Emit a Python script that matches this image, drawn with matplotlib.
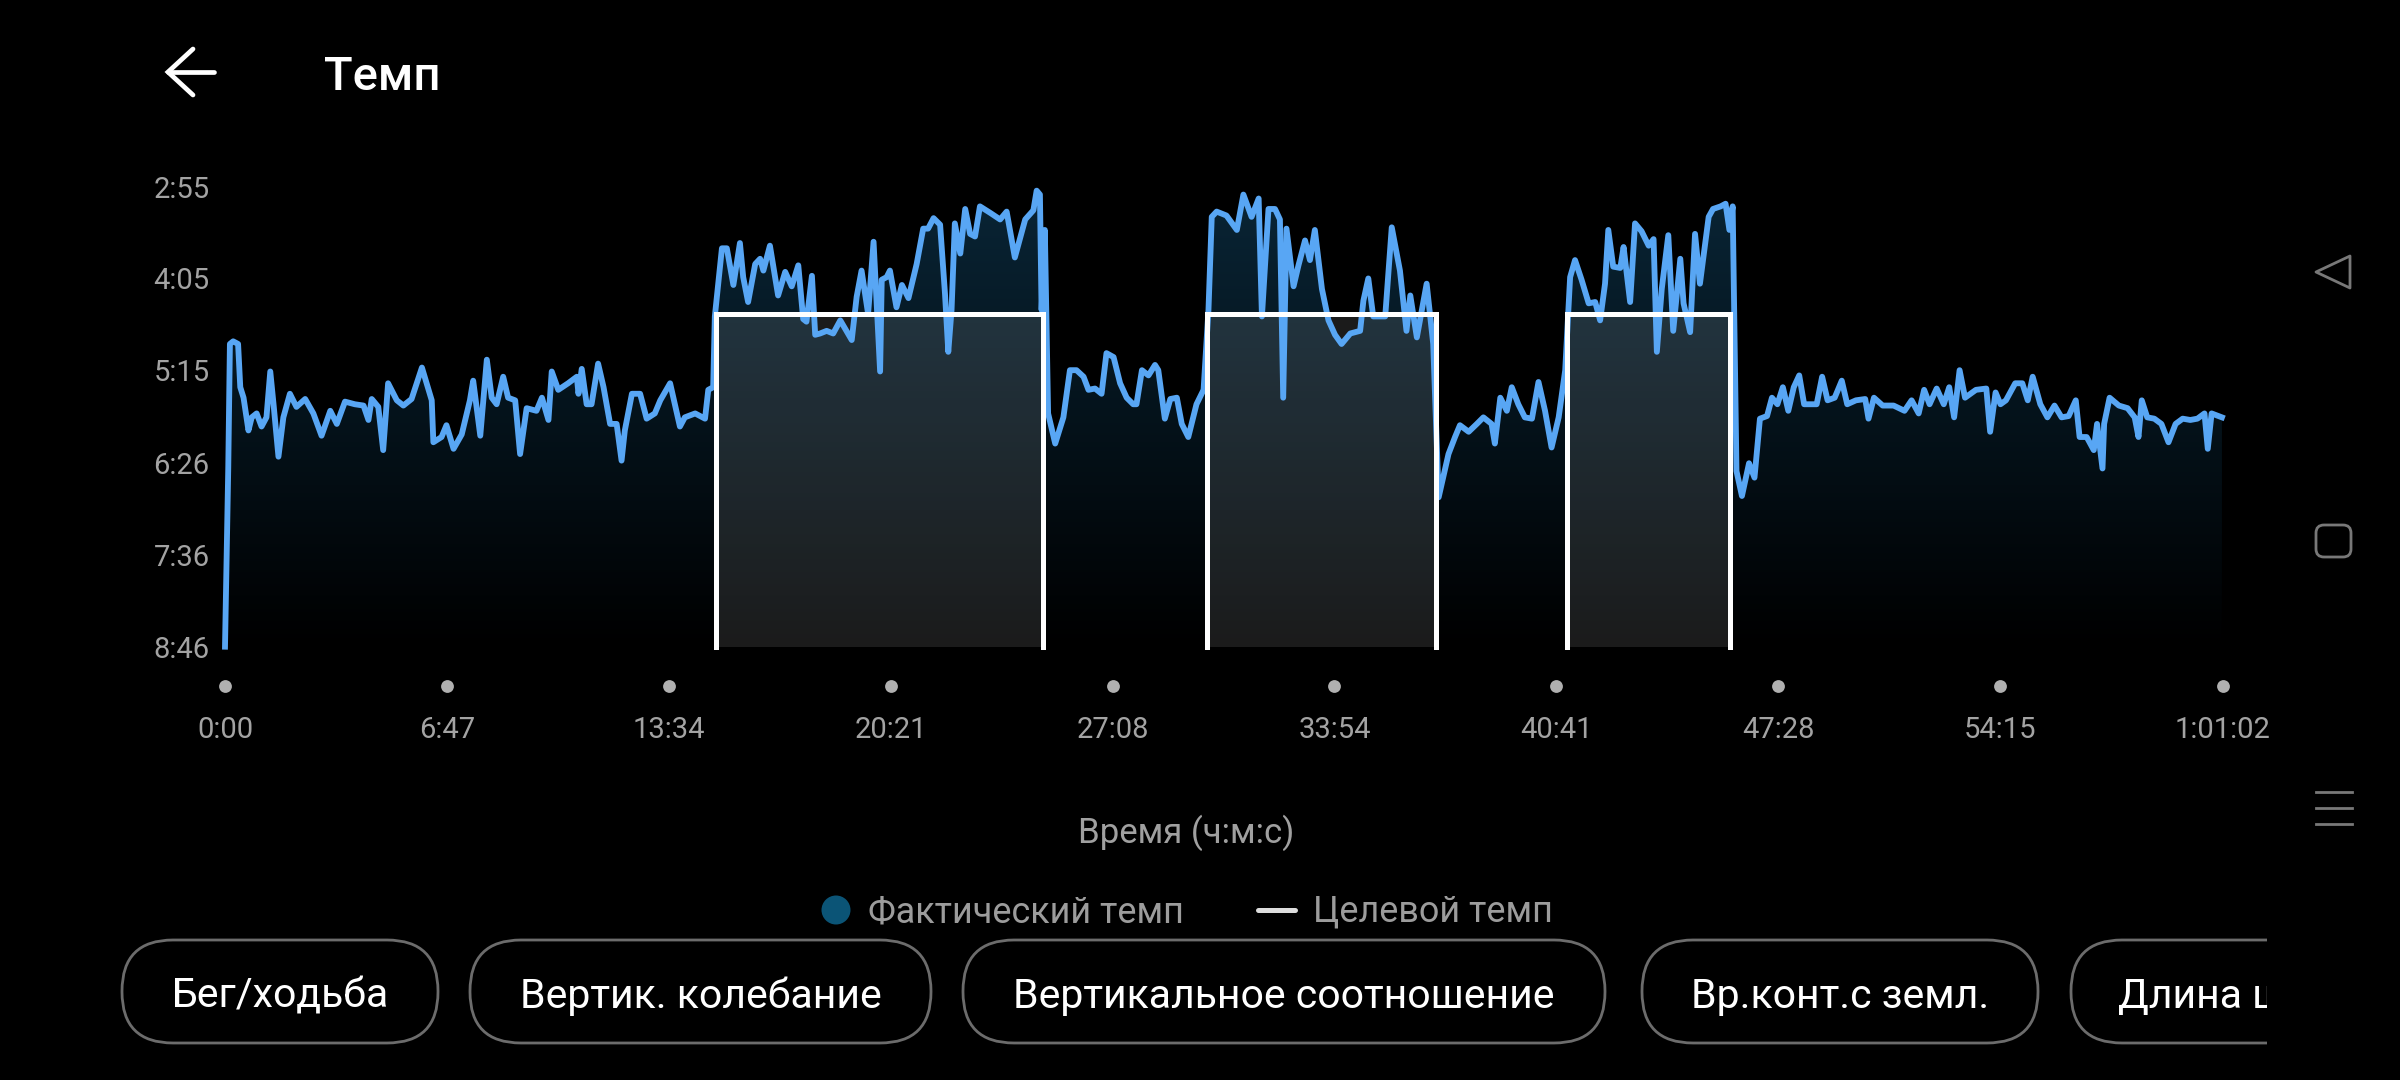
import numpy as np
import matplotlib
matplotlib.use("Agg")
import matplotlib.pyplot as plt
import matplotlib.transforms as mtransforms
from matplotlib.colors import LinearSegmentedColormap
from matplotlib.lines import Line2D
from matplotlib.patches import FancyBboxPatch, Polygon, Circle, Rectangle

plt.rcParams['font.family'] = ['Roboto', 'DejaVu Sans']

# ---- data (time in seconds, pace in seconds per km) ----
time_s = [
    0, 6, 9, 15, 24, 28, 34, 43, 49, 58, 67, 76, 83, 89, 98, 107, 119, 131, 147, 162,
    177, 193, 205, 220, 238, 254, 263, 269, 281, 290, 299, 315, 327, 342, 361, 379, 382, 397, 406, 419,
    434, 449, 455, 468, 480, 489, 498, 510, 519, 532, 541, 553, 571, 581, 593, 599, 611, 629, 645, 648,
    654, 663, 672, 684, 694, 706, 718, 727, 733, 746, 761, 773, 788, 798, 816, 822, 834, 843, 862, 880,
    886, 895, 898, 911, 920, 932, 944, 950, 959, 972, 981, 987, 999, 1014, 1027, 1039, 1051, 1060, 1066, 1076,
    1082, 1091, 1103, 1115, 1128, 1149, 1158, 1167, 1179, 1189, 1201, 1204, 1213, 1219, 1231, 1241, 1253, 1268, 1280, 1289,
    1299, 1311, 1320, 1326, 1332, 1338, 1348, 1357, 1366, 1375, 1384, 1403, 1421, 1433, 1448, 1467, 1482, 1488, 1494, 1497,
    1503, 1509, 1522, 1537, 1549, 1561, 1574, 1583, 1595, 1607, 1616, 1629, 1641, 1653, 1665, 1671, 1681, 1693, 1705, 1711,
    1723, 1733, 1745, 1754, 1766, 1781, 1794, 1803, 1809, 1818, 1836, 1855, 1867, 1882, 1895, 1901, 1913, 1925, 1934, 1940,
    1946, 1959, 1968, 1980, 1989, 1998, 2011, 2023, 2035, 2047, 2063, 2081, 2087, 2096, 2105, 2118, 2127, 2139, 2154, 2166,
    2173, 2185, 2203, 2215, 2225, 2243, 2255, 2264, 2280, 2295, 2307, 2322, 2328, 2338, 2350, 2359, 2371, 2383, 2396, 2408,
    2420, 2432, 2445, 2457, 2466, 2475, 2487, 2500, 2512, 2521, 2530, 2536, 2545, 2558, 2564, 2576, 2585, 2597, 2610, 2619,
    2625, 2634, 2646, 2655, 2668, 2674, 2686, 2695, 2704, 2720, 2728, 2742, 2751, 2758, 2764, 2771, 2781, 2794, 2804, 2814,
    2827, 2836, 2846, 2856, 2866, 2876, 2886, 2895, 2905, 2918, 2928, 2938, 2951, 2964, 2974, 2990, 3007, 3013, 3023, 3039,
    3059, 3079, 3092, 3105, 3115, 3125, 3138, 3151, 3161, 3170, 3180, 3190, 3210, 3229, 3236, 3246, 3255, 3265, 3282, 3295,
    3305, 3314, 3328, 3341, 3354, 3367, 3380, 3393, 3400, 3413, 3426, 3432, 3442, 3445, 3455, 3472, 3488, 3501, 3508, 3514,
    3524, 3537, 3550, 3563, 3576, 3589, 3603, 3616, 3629, 3635, 3642, 3661,
]
pace_s = [
    526, 389, 295, 293, 295, 328, 336, 361, 351, 348, 358, 351, 316, 341, 381, 351, 333, 343, 337, 348,
    365, 346, 356, 339, 341, 342, 353, 337, 343, 376, 325, 338, 342, 337, 313, 338, 370, 366, 357, 375,
    364, 338, 323, 365, 307, 336, 341, 320, 336, 338, 379, 344, 346, 336, 353, 316, 330, 325, 320, 333,
    314, 341, 341, 310, 328, 356, 356, 384, 361, 333, 333, 352, 348, 338, 325, 336, 358, 351, 348, 352,
    330, 328, 274, 222, 222, 250, 218, 244, 263, 234, 230, 239, 220, 258, 240, 251, 235, 276, 278, 243,
    288, 287, 285, 287, 277, 292, 259, 239, 272, 217, 316, 246, 244, 239, 267, 250, 260, 234, 207, 207,
    199, 204, 257, 301, 269, 203, 226, 192, 211, 213, 190, 195, 200, 194, 229, 200, 193, 178, 181, 269,
    208, 348, 371, 351, 315, 315, 320, 330, 329, 333, 302, 305, 325, 336, 341, 341, 315, 319, 311, 315,
    352, 337, 336, 356, 366, 341, 330, 269, 198, 194, 197, 208, 181, 198, 184, 274, 192, 192, 200, 336,
    207, 251, 235, 216, 231, 208, 253, 277, 288, 295, 287, 285, 262, 245, 274, 274, 274, 206, 239, 285,
    258, 290, 249, 295, 412, 379, 366, 357, 362, 356, 351, 356, 371, 336, 346, 328, 341, 351, 352, 324,
    346, 374, 351, 315, 244, 231, 246, 264, 263, 277, 249, 208, 236, 237, 221, 263, 203, 209, 220, 215,
    301, 253, 212, 285, 230, 264, 286, 211, 249, 198, 192, 190, 188, 208, 190, 392, 411, 386, 397, 352,
    350, 336, 341, 328, 346, 328, 319, 341, 341, 341, 320, 338, 336, 323, 341, 338, 337, 352, 336, 342,
    342, 346, 338, 348, 330, 341, 329, 341, 328, 351, 315, 336, 330, 329, 362, 332, 341, 338, 325, 325,
    338, 320, 341, 351, 342, 351, 350, 338, 366, 366, 376, 356, 390, 356, 336, 342, 344, 351, 366, 338,
    351, 352, 356, 370, 356, 352, 353, 352, 348, 375, 348, 351,
]

target_pace = 272
target_intervals = [(900, 1500), (1800, 2220), (2460, 2760)]

x_tick_labels = ['0:00', '6:47', '13:34', '20:21', '27:08', '33:54', '40:41', '47:28', '54:15', '1:01:02']
y_tick_labels = ['2:55', '4:05', '5:15', '6:26', '7:36', '8:46']

legend_labels = ['Фактический темп', 'Целевой темп']
button_labels = ['Бег/ходьба', 'Вертик. колебание', 'Вертикальное соотношение', 'Вр.конт.с земл.', 'Длина шага']


def to_seconds(label):
    total = 0
    for part in label.split(':'):
        total = total * 60 + int(part)
    return total


x_ticks = [to_seconds(s) for s in x_tick_labels]
y_ticks = [to_seconds(s) for s in y_tick_labels]
t_max = x_ticks[-1]
p_top, p_bottom = y_ticks[0], y_ticks[-1]

W, H = 2400, 1080
fig = plt.figure(figsize=(24, 10.8), dpi=100, facecolor='black')
# top-left pixel coordinates for the UI chrome
px = mtransforms.Affine2D().scale(1 / W, -1 / H).translate(0, 1) + fig.transFigure

ax_l, ax_r, ax_t, ax_b = 225, 2222.5, 186.7, 646.7
ax = fig.add_axes([ax_l / W, 1 - ax_b / H, (ax_r - ax_l) / W, (ax_b - ax_t) / H])
ax.set_facecolor('black')
for sp in ax.spines.values():
    sp.set_visible(False)

# gradient area under the pace line
area = ax.fill_between(time_s, pace_s, p_bottom, color='none', lw=0)
fill_cmap = LinearSegmentedColormap.from_list('pacefill', ['#092536', '#000000'])
grad = np.linspace(0, 1, 256).reshape(-1, 1)
im = ax.imshow(grad, cmap=fill_cmap, extent=[0, t_max, p_bottom, p_top],
               aspect='auto', origin='upper', zorder=1)
im.set_clip_path(area.get_paths()[0], transform=ax.transData)

# target pace blocks
for s, e in target_intervals:
    ax.fill_between([s, e], target_pace, p_bottom, color='white', alpha=0.11, lw=0, zorder=2)

ax.plot(time_s, pace_s, color='#58a6f4', lw=4.2, zorder=4, clip_on=False,
        solid_joinstyle='round')

for s, e in target_intervals:
    ax.plot([s, s, e, e], [p_bottom, target_pace, target_pace, p_bottom],
            color='white', lw=3.6, zorder=5, solid_joinstyle='miter', clip_on=False)

ax.set_xlim(0, t_max)
ax.set_ylim(p_bottom, p_top)
ax.set_xticks(x_ticks, x_tick_labels)
ax.set_yticks(y_ticks, y_tick_labels)
ax.tick_params(axis='x', length=0, pad=50, labelsize=21, labelcolor='#a3a3a3')
ax.tick_params(axis='y', length=0, pad=11, labelsize=21, labelcolor='#a3a3a3')

# tick dots under the axis
dot_tr = mtransforms.blended_transform_factory(ax.transData, ax.transAxes)
ax.scatter(x_ticks, [-(686 - ax_b) / (ax_b - ax_t)] * len(x_ticks), transform=dot_tr,
           s=85, color='#b0b0b0', clip_on=False, zorder=6, lw=0)

ax.set_xlabel('Время (ч:м:с)', fontsize=25, color='#a0a0a0')
ax.xaxis.set_label_coords((1186 - ax_l) / (ax_r - ax_l), -(833 - ax_b) / (ax_b - ax_t))
ax.xaxis.label.set_va('center')

# header
fig.add_artist(Line2D([168, 214], [72, 72], transform=px, color='white', lw=3.4,
                      solid_capstyle='round'))
fig.add_artist(Line2D([193, 168, 193], [49, 72, 95], transform=px, color='white', lw=3.4,
                      solid_capstyle='round', solid_joinstyle='miter'))
fig.text(324, 90, 'Темп', transform=px, color='white', fontsize=34, fontweight='medium',
         ha='left', va='baseline')

# legend
leg_y = 912
fig.add_artist(Circle((836, leg_y - 2), 14.5, transform=px, color='#0b5476', lw=0))
fig.text(868, leg_y, legend_labels[0], transform=px, color='#9c9c9c', fontsize=25.8,
         ha='left', va='center')
fig.add_artist(Line2D([1258, 1295], [leg_y - 2, leg_y - 2], transform=px, color='#dddddd',
                      lw=3.6, solid_capstyle='round'))
fig.text(1313, leg_y, legend_labels[1], transform=px, color='#9c9c9c', fontsize=25.8,
         ha='left', va='center')

# pill buttons
btn_spans = [(122, 438), (470, 931), (963, 1605), (1642, 2038), (2071, 2470)]
btn_top, btn_h = 940, 103
clip_rect = Rectangle((0, 0), 2267, H, transform=px)
for (x0, x1), label in zip(btn_spans, button_labels):
    pill = FancyBboxPatch((x0, btn_top), x1 - x0, btn_h,
                          boxstyle='round,pad=0,rounding_size=51',
                          transform=px, facecolor='black', edgecolor='#6c6c6c', lw=2.0)
    fig.add_artist(pill)
    pill.set_clip_path(clip_rect)
    ty = btn_top + btn_h / 2 + 5
    if x1 > 2267:
        txt = fig.text(2118, ty, label, transform=px, color='white',
                       fontsize=29.5, ha='left', va='center')
        txt.set_clip_path(clip_rect)
    else:
        fig.text((x0 + x1) / 2, ty, label, transform=px, color='white',
                 fontsize=29.5, ha='center', va='center')

# android nav bar
nav_c = '#787878'
fig.add_artist(Polygon([(2316, 272), (2350, 256), (2350, 288)], closed=True, transform=px,
                       fill=False, edgecolor=nav_c, lw=2.0, joinstyle='round'))
fig.add_artist(FancyBboxPatch((2316, 525), 35, 32, boxstyle='round,pad=0,rounding_size=8',
                              transform=px, fill=False, edgecolor=nav_c, lw=2.0))
for yy in (792, 808, 824):
    fig.add_artist(Line2D([2316, 2352], [yy, yy], transform=px, color=nav_c, lw=2.0))

fig.savefig('out.png', dpi=100, facecolor='black')
